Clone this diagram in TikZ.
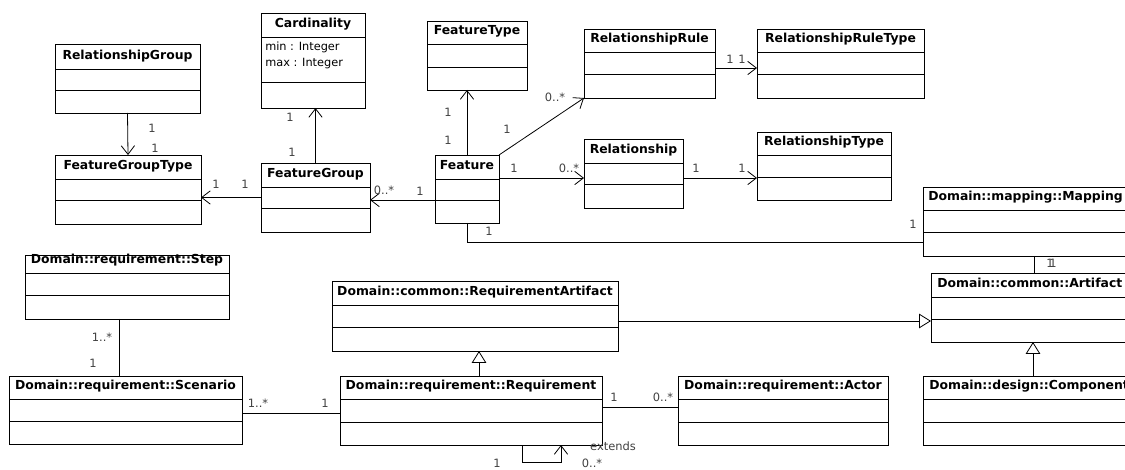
\documentclass[tikz,border=0pt]{standalone}
\usepackage{fontspec}
\setmainfont{DejaVu Sans}
\usetikzlibrary{calc,arrows.meta}

\tikzset{
  x=0.75pt, y=-0.75pt,
  clsbox/.style={draw, line width=0.7pt, fill=white, inner sep=0pt, outer sep=0pt},
  clsname/.style={font=\fontsize{9.3pt}{11pt}\selectfont\bfseries, inner sep=0pt, anchor=base},
  attr/.style={font=\fontsize{8.5pt}{10pt}\selectfont, inner sep=0pt, anchor=base west},
  mult/.style={font=\fontsize{8.6pt}{10pt}\selectfont, text=black!75, inner sep=0pt},
  plain/.style={line width=0.6pt},
  assoc/.style={line width=0.6pt, -{Straight Barb[length=6.5pt,width=10pt]}},
  inherit/.style={line width=0.6pt, -{Triangle[open,length=9pt,width=11pt,fill=white]}},
}

% class box: name, left, top, width, header, middle, bottom, title
\newcommand{\umlclass}[8]{%
  \node[clsbox, anchor=north west, minimum width=#4*0.75pt, minimum height=(#5+#6+#7)*0.75pt] (#1) at (#2,#3) {};
  \draw[plain] ($(#1.north west)+(0,#5)$) -- ($(#1.north east)+(0,#5)$);
  \draw[plain] ($(#1.north west)+(0,{#5+#6})$) -- ($(#1.north east)+(0,{#5+#6})$);
  \node[clsname] (#1-name) at ($(#1.north)+(0,{#5-9})$) {#8};
}

\begin{document}
\begin{tikzpicture}
\useasboundingbox (0,0) rectangle (1125,470);
\clip (0,0) rectangle (1125,470);

% Feature model classes
\umlclass{rgroup}{55}{44}{145}{25}{21}{23}{RelationshipGroup}
\umlclass{card}{261}{13}{104}{24}{45}{26}{Cardinality}
\umlclass{fgtype}{55}{155}{146}{24}{21}{24}{FeatureGroupType}
\umlclass{fgroup}{261}{163}{109}{24}{21}{24}{FeatureGroup}
\umlclass{ftype}{427}{21}{100}{23}{23}{23}{FeatureType}
\umlclass{feat}{435}{155}{64}{24}{21}{23}{Feature}
\umlclass{rrule}{584}{29}{131}{23}{22}{24}{RelationshipRule}
\umlclass{rrtype}{757}{29}{167}{23}{22}{24}{RelationshipRuleType}
\umlclass{rel}{584}{139}{99}{24}{21}{24}{Relationship}
\umlclass{reltype}{757}{132}{134}{23}{22}{23}{RelationshipType}

\node[attr] (card-min) at (265,51) {min : Integer};
\node[attr] (card-max) at (265,67) {max : Integer};

% Domain classes
\umlclass{mapping}{923}{187}{220}{23}{22}{24}{}
\umlclass{artifact}{931}{273}{220}{24}{22}{23}{}
\umlclass{comp}{923}{376}{220}{23}{23}{23}{}
\umlclass{reqart}{332}{281}{286}{24}{22}{24}{Domain::common::RequirementArtifact}
\umlclass{req}{340}{376}{262}{23}{23}{23}{Domain::requirement::Requirement}
\umlclass{actor}{678}{376}{210}{23}{23}{23}{Domain::requirement::Actor}
\umlclass{step}{25}{255}{204}{18}{22}{24}{Domain::requirement::Step}
\umlclass{scen}{9}{376}{233}{23}{22}{23}{Domain::requirement::Scenario}

\node[clsname, anchor=base west] (mapping-name) at (928,201) {Domain::mapping::Mapping};
\node[clsname, anchor=base west] (artifact-name) at (937,288) {Domain::common::Artifact};
\node[clsname, anchor=base west] (comp-name) at (929,390) {Domain::design::Component};

% connectors
\coordinate (fg-in) at ($(feat.north west)+(0,45)$);
\coordinate (rrule-out) at ($(rrule.north east)+(0,39)$);
\coordinate (feat-out) at ($(feat.north east)+(0,23)$);
\coordinate (rel-out) at ($(rel.north east)+(0,39)$);
\coordinate (map-in) at ($(mapping.south west)+(0,-14)$);
\coordinate (map-out) at ($(mapping.south west)+(111,0)$);
\coordinate (ra-out) at ($(reqart.north east)+(0,40)$);
\coordinate (comp-out) at ($(comp.north west)+(110,0)$);
\coordinate (req-up) at ($(req.north west)+(139,0)$);
\coordinate (req-out) at ($(req.north east)+(0,31)$);
\coordinate (ext-a) at ($(req.south west)+(182,0)$);
\coordinate (ext-b) at ($(req.south west)+(221,0)$);
\coordinate (step-out) at ($(step.south west)+(94,0)$);
\coordinate (scen-out) at ($(scen.north east)+(0,37)$);

\draw[assoc] (rgroup.south) -- (fgtype.north);
\draw[assoc] (fgroup.north) -- (fgroup.north |- card.south);
\draw[assoc] (fgroup.west) -- (fgroup.west -| fgtype.east);
\draw[assoc] (fg-in) -- (fg-in -| fgroup.east);
\draw[assoc] (feat.north) -- (feat.north |- ftype.south);
\draw[assoc] (feat.north east) -- (rrule.south west);
\draw[assoc] (rrule-out) -- (rrule-out -| rrtype.west);
\draw[assoc] (feat-out) -- (feat-out -| rel.west);
\draw[assoc] (rel-out) -- (rel-out -| reltype.west);
\draw[plain] (feat.south) |- (map-in);
\draw[plain] (map-out) -- (map-out |- artifact.north);
\draw[inherit] (ra-out) -- (ra-out -| artifact.west);
\draw[inherit] (comp-out) -- (comp-out |- artifact.south);
\draw[inherit] (req-up) -- (req-up |- reqart.south);
\draw[plain] (req-out) -- (req-out -| actor.west);
\draw[assoc] (ext-a) -- ++(0,17) -| (ext-b);
\draw[plain] (step-out) -- (step-out |- scen.north);
\draw[plain] (scen-out) -- (scen-out -| req.west);

% multiplicities
\node[mult] (m-rg-a) at (152,128) {1};
\node[mult] (m-rg-b) at (155,148) {1};
\node[mult] (m-card-a) at (290,117) {1};
\node[mult] (m-card-b) at (292,152) {1};
\node[mult] (m-fgt-a) at (216,184) {1};
\node[mult] (m-fgt-b) at (245,184) {1};
\node[mult] (m-fg-a) at (384,190) {0..*};
\node[mult] (m-fg-b) at (420,191) {1};
\node[mult] (m-ft-a) at (448,112) {1};
\node[mult] (m-ft-b) at (448,140) {1};
\node[mult] (m-rr-a) at (507,129) {1};
\node[mult] (m-rr-b) at (555,97) {0..*};
\node[mult] (m-rrt-a) at (730,59) {1};
\node[mult] (m-rrt-b) at (742,59) {1};
\node[mult] (m-rel-a) at (514,168) {1};
\node[mult] (m-rel-b) at (569,168) {0..*};
\node[mult] (m-rt-a) at (696,168) {1};
\node[mult] (m-rt-b) at (742,168) {1};
\node[mult] (m-map-a) at (489,231) {1};
\node[mult] (m-map-b) at (913,224) {1};
\node[mult] (m-art-a) at (1050,263) {1};
\node[mult] (m-art-b) at (1053,263) {1};
\node[mult] (m-req-a) at (614,397) {1};
\node[mult] (m-req-b) at (663,397) {0..*};
\node[mult] (m-ext) at (613,446) {extends};
\node[mult] (m-ext-a) at (497,463) {1};
\node[mult] (m-ext-b) at (592,463) {0..*};
\node[mult] (m-step-a) at (102,337) {1..*};
\node[mult] (m-step-b) at (93,363) {1};
\node[mult] (m-scen-a) at (258,403) {1..*};
\node[mult] (m-scen-b) at (325,403) {1};

\end{tikzpicture}
\end{document}
